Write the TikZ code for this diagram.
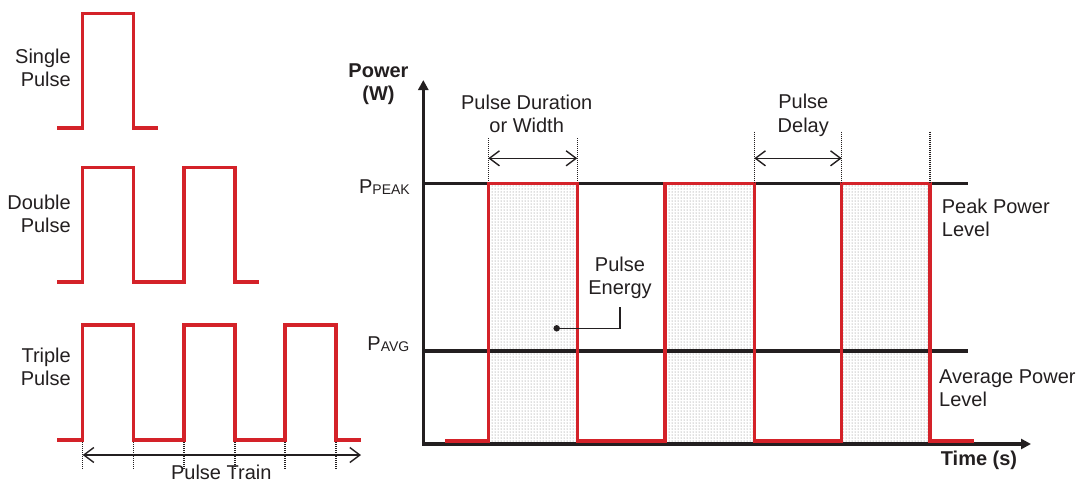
\documentclass[tikz,border=0pt]{standalone}
\usepackage{fontspec}
\setmainfont{Liberation Sans}
\usetikzlibrary{arrows.meta,patterns}
\definecolor{pulsered}{HTML}{D42229}
\definecolor{ink}{HTML}{231F20}
\begin{document}
\begin{tikzpicture}[x=1pt,y=-1pt,
  txt/.style={font=\fontsize{20}{23.5}\selectfont, inner sep=0pt, text=ink},
  boldtxt/.style={font=\fontsize{20}{23.5}\selectfont\bfseries, inner sep=0pt, text=ink},
  wave/.style={draw=pulsered, line width=3.5pt, line join=miter},
  level/.style={draw=ink, line width=3.2pt},
  axis/.style={draw=ink, line width=3.2pt, {Triangle[length=10pt,width=10pt]}-{Triangle[length=10pt,width=10pt]}},
  guide/.style={draw=ink, line width=1.5pt, dash pattern=on 1pt off 1pt},
  dim/.style={draw=ink, line width=1.4pt, {Straight Barb[length=10pt,width=15pt]}-{Straight Barb[length=10pt,width=15pt]}},
  energy/.style={pattern=dots, pattern color=black!55},
  leader/.style={draw=ink, line width=1.4pt}
]
\useasboundingbox (0,0) rectangle (1088,483);

% ---------------- left: pulse types ----------------
\node[txt, align=right, anchor=east] (single) at (71,67.9) {Single\\Pulse};
\node[txt, align=right, anchor=east] (double) at (71,214) {Double\\Pulse};
\node[txt, align=right, anchor=east] (triple) at (71,366.7) {Triple\\Pulse};

\draw[wave] (57,128) -- (82.7,128) -- (82.7,13.7) -- (133.3,13.7) -- (133.3,128) -- (158.3,128);
\draw[wave] (57,282) -- (82.7,282) -- (82.7,167.3) -- (133.3,167.3) -- (133.3,282)
  -- (184,282) -- (184,167.3) -- (235,167.3) -- (235,282) -- (259.3,282);
\draw[wave] (57,440) -- (82.7,440) -- (82.7,325) -- (133.3,325) -- (133.3,440)
  -- (184,440) -- (184,325) -- (235,325) -- (235,440)
  -- (285,440) -- (285,325) -- (336,325) -- (336,440) -- (361,440);

\foreach \xx in {82.7,133.3,184,235,285,336}
  \draw[guide] (\xx,442) -- (\xx,469);
\coordinate (trainL) at (82.7,455);
\coordinate (trainR) at (361,455);
\draw[dim] (trainL) -- (trainR);
\node[txt, anchor=base] (train) at (221.3,479) {Pulse Train};

% ---------------- right: power vs time ----------------
\fill[energy] (488.3,183.3) rectangle (577.3,441);
\fill[energy] (665,183.3) rectangle (754.3,441);
\fill[energy] (841.7,183.3) rectangle (930,441);

\coordinate (origin) at (423.3,444);
\coordinate (ytip) at (423.3,80);
\coordinate (xtip) at (1031,444);
\coordinate (peakL) at (423.3,183.3);
\coordinate (peakR) at (968,183.3);
\coordinate (avgL) at (423.3,351);
\coordinate (avgR) at (968,351);

\draw[level] (peakL) -- (peakR);
\draw[level] (avgL) -- (avgR);
\draw[axis] (ytip) -- (origin) -- (xtip);

\draw[wave] (445,441) -- (488.3,441) -- (488.3,183.3) -- (577.3,183.3) -- (577.3,441)
  -- (665,441) -- (665,183.3) -- (754.3,183.3) -- (754.3,441)
  -- (841.7,441) -- (841.7,183.3) -- (930,183.3) -- (930,441) -- (974,441);

% duration / delay guides
\draw[guide] (488.3,138) -- (488.3,182);
\draw[guide] (577.3,138) -- (577.3,182);
\draw[guide] (754.3,131.7) -- (754.3,182);
\draw[guide] (841.7,131.7) -- (841.7,182);
\draw[guide] (930,131.7) -- (930,182);
\coordinate (durL) at (488.3,158.3);
\coordinate (durR) at (577.3,158.3);
\coordinate (delL) at (754.3,158.3);
\coordinate (delR) at (841.7,158.3);
\draw[dim] (durL) -- (durR);
\draw[dim] (delL) -- (delR);

% labels
\node[boldtxt, align=center] (power) at (378.5,84.1) {Power\\(W)};
\node[boldtxt] (time) at (979,460.5) {Time (s)};
\node[txt, anchor=base east] (ppeak) at (410,193.5)
  {P{\fontsize{14}{14}\selectfont\raisebox{-0.8pt}{PEAK}}};
\node[txt, anchor=base east] (pavg) at (409.5,350.5)
  {P{\fontsize{14}{14}\selectfont\raisebox{-0.8pt}{AVG}}};
\node[txt, align=center] (duration) at (526.7,113.8) {Pulse Duration\\or Width};
\node[txt, align=center] (delay) at (803.3,115.5) {Pulse\\Delay};
\node[txt, align=left, anchor=west] (peaklvl) at (941.7,218) {Peak Power\\Level};
\node[txt, align=left, anchor=west] (avglvl) at (939,388) {Average Power\\Level};
\node[txt, align=center] (energylbl) at (620,278) {Pulse\\Energy};

\node[circle, fill=ink, inner sep=0pt, minimum size=6.5pt] (edot) at (556.7,328.3) {};
\draw[leader] (edot.center) -| ([yshift=-7.5pt]energylbl.south);
\end{tikzpicture}
\end{document}
